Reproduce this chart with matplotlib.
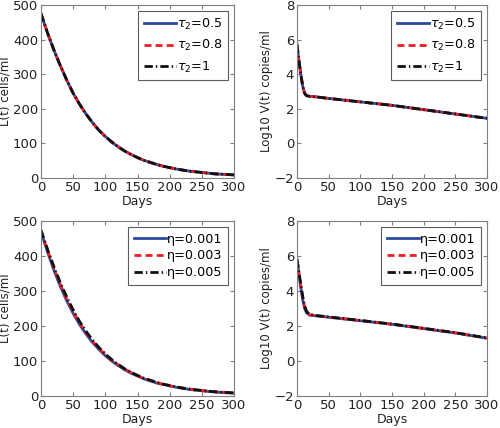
import matplotlib.pyplot as plt

days_L = [0, 10, 20, 30, 40, 50, 60, 70, 80, 90, 100, 110, 120, 130, 140, 150,
          160, 170, 180, 190, 200, 210, 220, 230, 240, 250, 260, 270, 280, 290, 300]
L_top = [475, 420, 370, 325, 283, 245, 213, 185, 160, 138, 120, 104, 90, 78, 68, 59,
         51, 45, 39, 34, 30, 26, 23, 20, 18, 16, 14, 12, 11, 10, 9]
L_bot_a = [470, 412, 360, 313, 272, 236, 204, 177, 153, 133, 115, 100, 87, 75, 65, 57,
           49, 43, 37, 33, 29, 25, 22, 19, 17, 15, 13, 12, 10, 9, 8]
L_bot_b = [472, 416, 365, 319, 277, 241, 209, 181, 157, 136, 118, 102, 89, 77, 67, 58,
           50, 44, 38, 33, 29, 26, 22, 20, 17, 15, 14, 12, 11, 10, 9]
L_bot_c = [474, 420, 370, 324, 283, 246, 213, 185, 160, 139, 120, 104, 90, 78, 68, 59,
           51, 45, 39, 34, 30, 26, 23, 20, 18, 16, 14, 12, 11, 10, 9]

days_V = [0, 3, 6, 9, 12, 15, 20, 30, 50, 100, 150, 200, 250, 300]
V_top = [5.7, 4.8, 4.0, 3.3, 2.9, 2.76, 2.72, 2.69, 2.6, 2.4, 2.2, 1.95, 1.7, 1.45]
V_bot_a = [5.8, 5.0, 4.2, 3.5, 3.0, 2.75, 2.62, 2.58, 2.5, 2.3, 2.1, 1.85, 1.6, 1.3]
V_bot_b = [5.8, 5.05, 4.3, 3.6, 3.1, 2.8, 2.64, 2.59, 2.51, 2.31, 2.1, 1.86, 1.61, 1.31]
V_bot_c = [5.8, 5.1, 4.4, 3.7, 3.15, 2.85, 2.66, 2.6, 2.52, 2.32, 2.11, 1.87, 1.62, 1.32]

tau_labels = [r'$\tau_2$=0.5', r'$\tau_2$=0.8', r'$\tau_2$=1']
eta_labels = ['η=0.001', 'η=0.003', 'η=0.005']

BLUE = '#2c4a9e'
RED = '#ee1c24'
BLACK = '#111111'
GREY = '#808080'

plt.rcParams['font.family'] = 'DejaVu Sans'
plt.rcParams['font.size'] = 9
plt.rcParams['mathtext.fontset'] = 'dejavusans'


def style_axes(ax, ylim, yticks, ylabel):
    ax.set_xlim(0, 300)
    ax.set_ylim(*ylim)
    ax.set_xticks([0, 50, 100, 150, 200, 250, 300])
    ax.set_yticks(yticks)
    ax.set_xlabel('Days', fontsize=9, color='#222222', labelpad=1)
    ax.set_ylabel(ylabel, fontsize=8.5, color='#222222', labelpad=1)
    ax.tick_params(direction='in', top=True, right=True, length=3,
                   color=GREY, labelsize=9.5, labelcolor='#222222', pad=2)
    for s in ax.spines.values():
        s.set_color(GREY)


def draw(ax, x, ys, labels, spacing):
    styles = [(BLUE, '-'), (RED, (0, (2.5, 1.5))), (BLACK, (0, (3, 1.1, 0.5, 1.1)))]
    for y, lab, (c, ls) in zip(ys, labels, styles):
        ax.plot(x, y, color=c, linestyle=ls, lw=2.0, label=lab)
    leg = ax.legend(loc='upper right', fancybox=False, edgecolor='#333333',
                    handlelength=2.5, fontsize=9.2, borderaxespad=0.45,
                    borderpad=0.45, labelspacing=spacing, handletextpad=0.1)
    leg.get_frame().set_linewidth(0.8)


fig = plt.figure(figsize=(5, 4.28), dpi=100)
ax1 = fig.add_axes([41 / 500, 1 - 178 / 428, 193 / 500, 173 / 428])
ax2 = fig.add_axes([297 / 500, 1 - 178 / 428, 190 / 500, 173 / 428])
ax3 = fig.add_axes([41 / 500, 1 - 396 / 428, 193 / 500, 175 / 428])
ax4 = fig.add_axes([297 / 500, 1 - 396 / 428, 190 / 500, 175 / 428])

draw(ax1, days_L, [L_top, L_top, L_top], tau_labels, 0.5)
style_axes(ax1, (0, 500), [0, 100, 200, 300, 400, 500], 'L(t) cells/ml')

draw(ax2, days_V, [V_top, V_top, V_top], tau_labels, 0.5)
style_axes(ax2, (-2, 8), [-2, 0, 2, 4, 6, 8], 'Log10 V(t) copies/ml')

draw(ax3, days_L, [L_bot_a, L_bot_b, L_bot_c], eta_labels, 0.3)
style_axes(ax3, (0, 500), [0, 100, 200, 300, 400, 500], 'L(t) cells/ml')

draw(ax4, days_V, [V_bot_a, V_bot_b, V_bot_c], eta_labels, 0.3)
style_axes(ax4, (-2, 8), [-2, 0, 2, 4, 6, 8], 'Log10 V(t) copies/ml')

fig.savefig('out.png', dpi=100)
